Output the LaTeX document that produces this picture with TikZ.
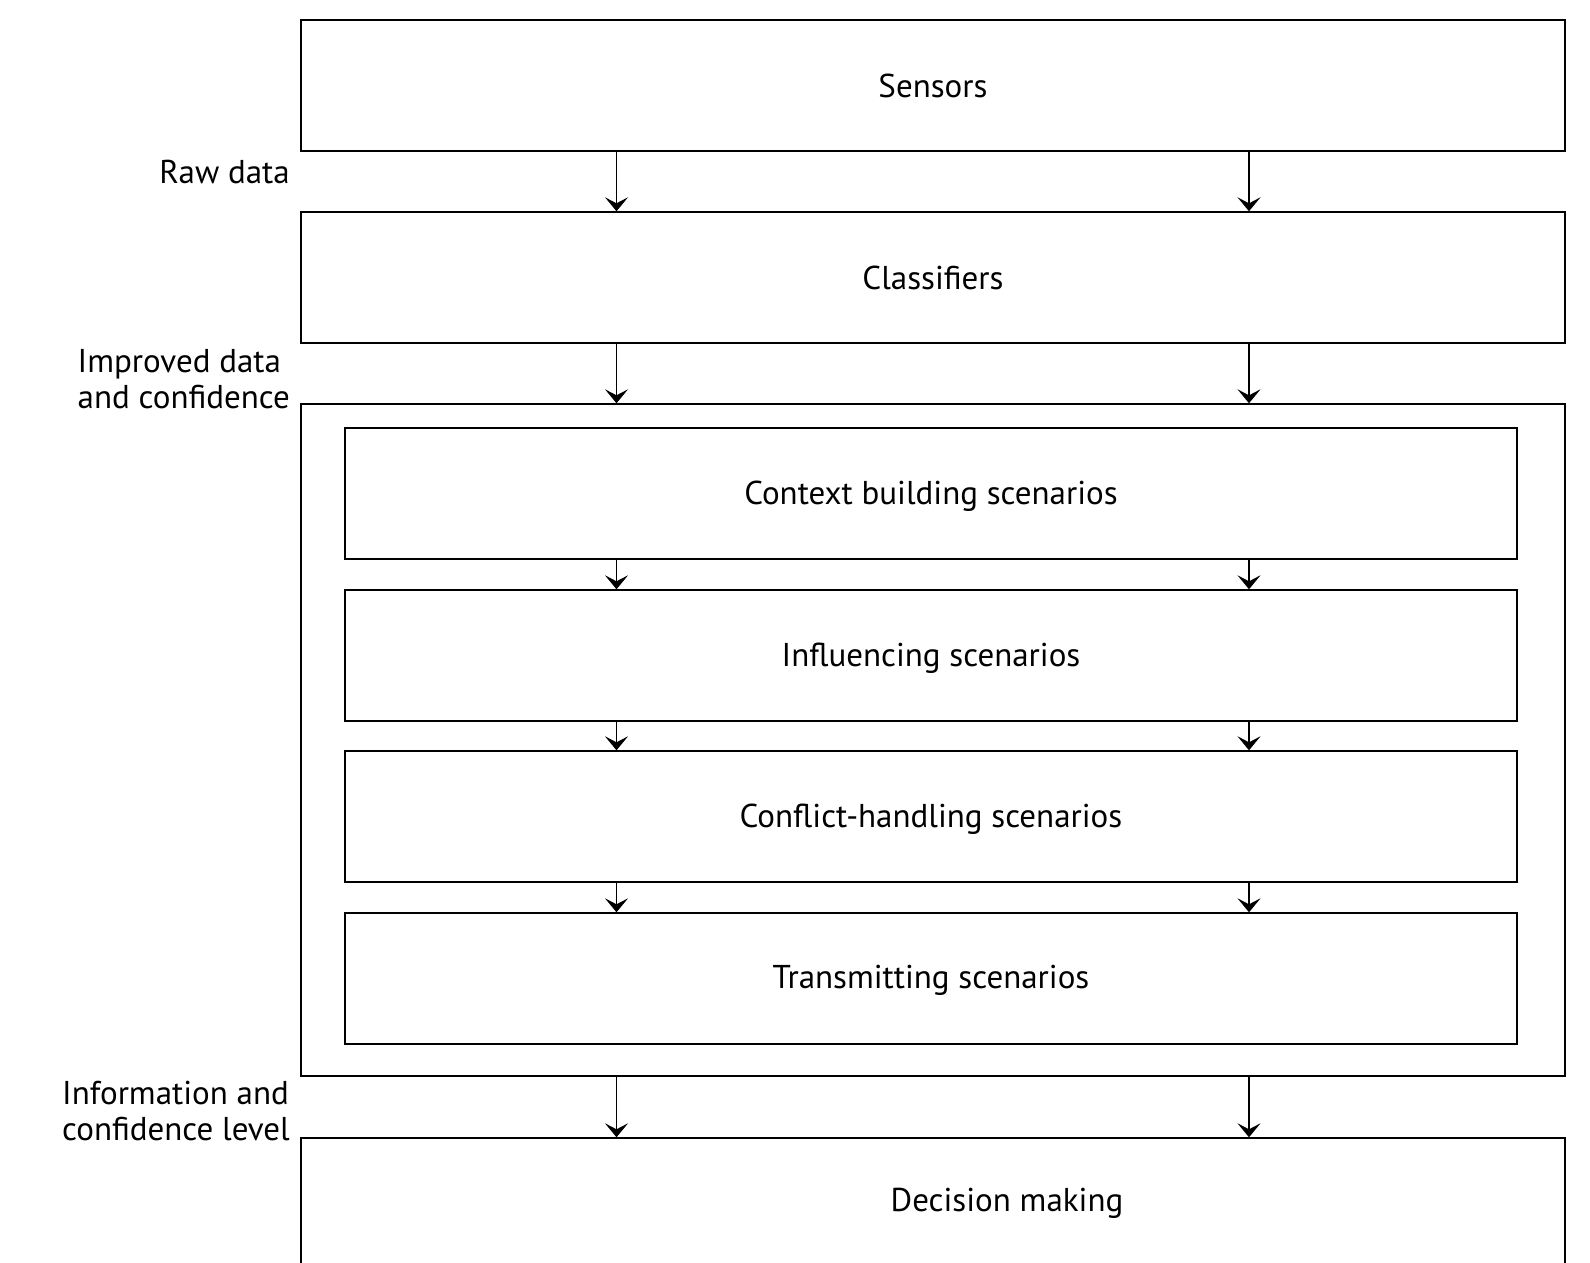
\documentclass[tikz,border=0pt]{standalone}
\usepackage{fontspec}
\setmainfont{PT Sans}
\usetikzlibrary{arrows.meta}
\begin{document}
\begin{tikzpicture}[x=1pt,y=-1pt,
  box/.style={draw=black,line width=1.4pt,rectangle,inner sep=0pt,font=\fontsize{33}{37}\selectfont},
  wide/.style={box,minimum width=1264pt,minimum height=131pt},
  inner/.style={box,minimum width=1172pt,minimum height=131pt,text depth=2.5pt},
  lbl/.style={anchor=east,align=left,inner sep=0pt,font=\fontsize{33}{36.5}\selectfont},
  arr/.style={line width=1.3pt,-{Stealth[width=23pt,length=14pt,inset=6pt]}}]
\clip (0,0) rectangle (1590,1263);
\fill[white] (0,0) rectangle (1590,1263);
\node[wide] (sensors) at (933,85.5) {Sensors};
\node[wide] (classifiers) at (933,277.5) {Classifiers};
\node[box,minimum width=1264pt,minimum height=672pt] (outer) at (933,740) {};
\node[inner] (context) at (931,493.5) {Context building scenarios};
\node[inner] (influ) at (931,655.5) {Influencing scenarios};
\node[inner] (conflict) at (931,816.5) {Conflict-handling scenarios};
\node[inner] (trans) at (931,978.5) {Transmitting scenarios};
\node[box,draw=none] (dectext) at (1007,1203) {Decision making};
\node[box,minimum width=1264pt,minimum height=200pt] (decision) at (933,1238) {};
\coordinate (a1) at (616.5,0);
\coordinate (a2) at (1249,0);
\foreach \u/\v in {sensors/classifiers,classifiers/outer,context/influ,influ/conflict,conflict/trans,outer/decision}{
  \draw[arr] (\u.south -| a1) -- (\v.north -| a1);
  \draw[arr] (\u.south -| a2) -- (\v.north -| a2);
}
\node[lbl] (l1) at (290,172) {Raw data};
\node[lbl] (l2) at (290,379) {Improved data\\and confidence};
\node[lbl] (l3) at (290,1111) {Information and\\confidence level};
\end{tikzpicture}
\end{document}
